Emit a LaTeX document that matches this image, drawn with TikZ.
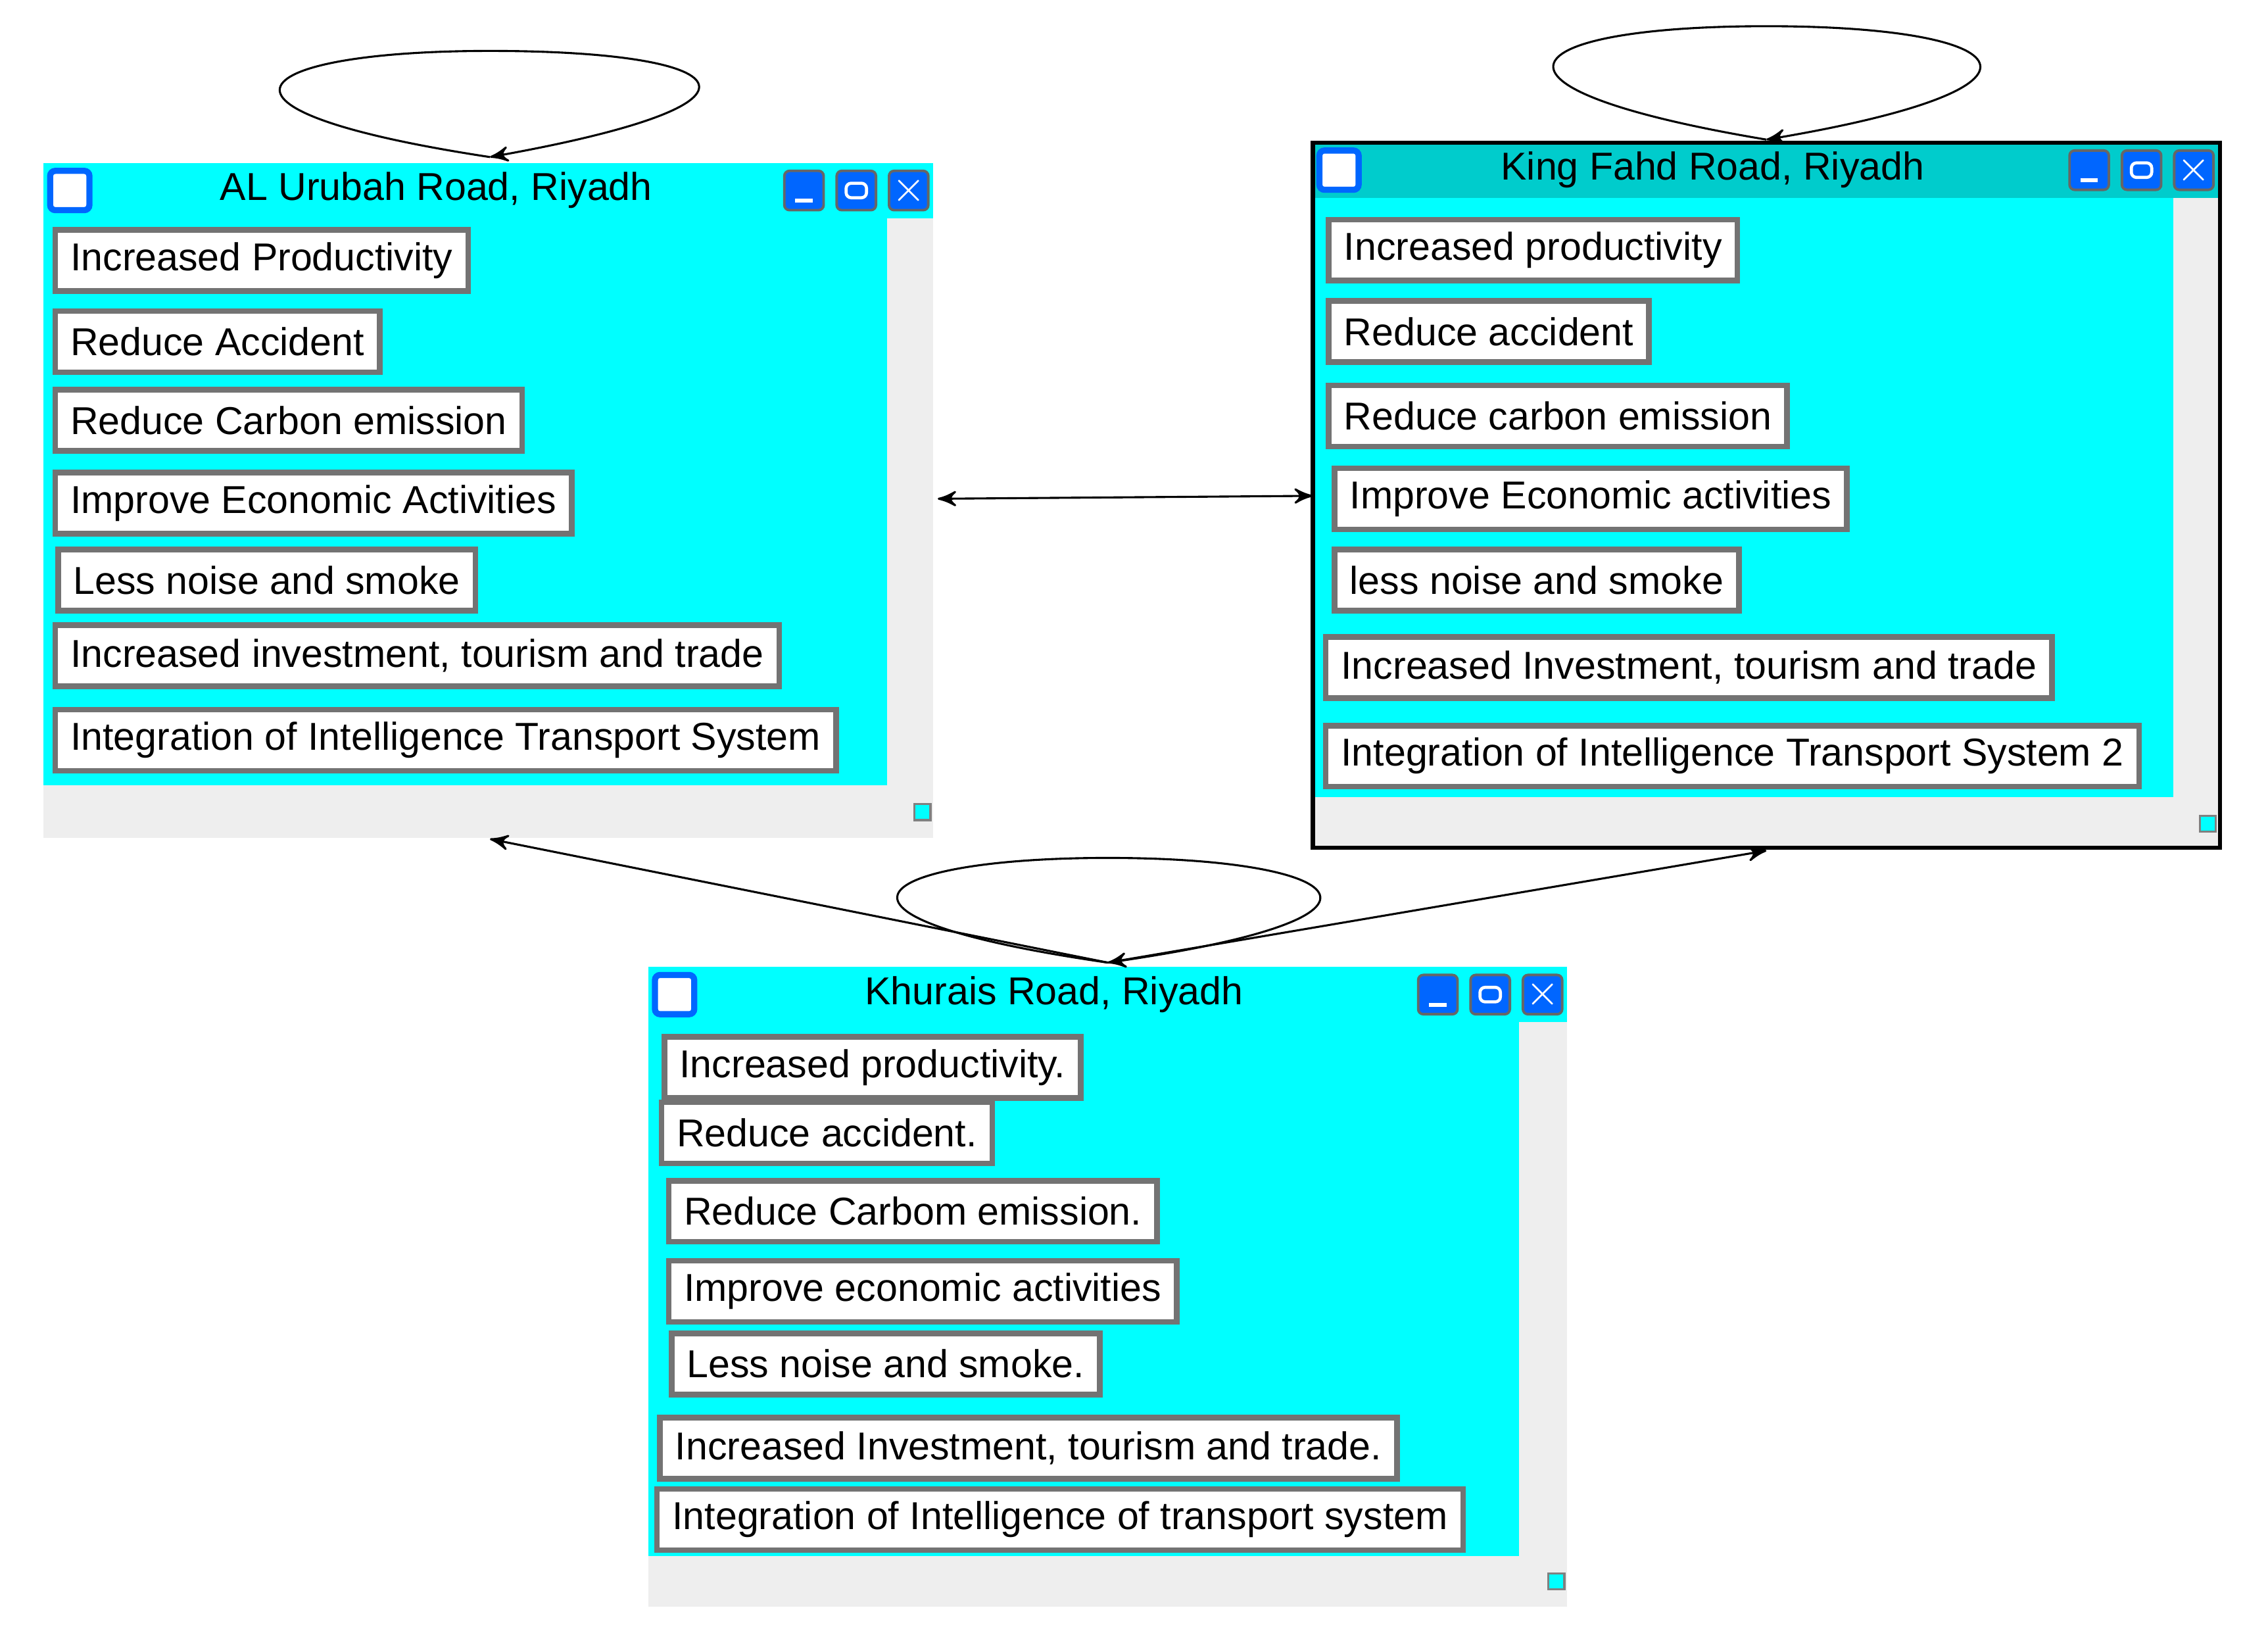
\documentclass[tikz,border=0pt]{standalone}
\usepackage{fontspec}
\setmainfont{Liberation Sans}
\usetikzlibrary{arrows,positioning,calc}
\definecolor{aqua}{RGB}{0,255,255}
\definecolor{tbar}{RGB}{0,204,204}
\definecolor{scr}{RGB}{238,238,238}
\definecolor{icon}{RGB}{0,102,255}

\tikzset{
	btn/.style={draw=black!55, line width=1.1pt, fill=white, anchor=west, inner xsep=3pt, inner ysep=0pt, minimum height=0.42cm, font=\fontsize{7.6}{8}\selectfont},
	ttl/.style={font=\fontsize{7.6}{8}\selectfont},
	ico/.style={draw=black!60, fill=icon, rounded corners=1pt, minimum size=0.27cm, inner sep=0pt, line width=0.5pt},
	lp/.style={->, >=stealth', line width=0.4pt}
}

\newcommand{\titleicons}[2]{%
	\node[ico, fill=white, draw=icon, line width=1.2pt] at (#1) {};
	\node[ico] at ($(#2)+(-72,0)$) {\tikz\draw[white,line width=0.8pt] (0,0) -- (0.12cm,0) (0,0.14cm) circle (0pt);};
	\node[ico] at ($(#2)+(-36,0)$) {\tikz\draw[white,line width=0.6pt] (0,0) rectangle (0.14cm,0.1cm);};
	\node[ico] at (#2) {\textcolor{white}{\fontsize{8}{8}\selectfont$\times$}};
}

\begin{document}
\begin{tikzpicture}[x=0.01cm, y=-0.01cm]
		\useasboundingbox (0,0) rectangle (1560,1123);
		
		%% AL Urubah window
		\fill[scr] (30,150) rectangle (642,576);
		\fill[aqua] (30,112) rectangle (642,150);
		\fill[aqua] (30,150) rectangle (610,540);
		\node[ttl] (t1) at (300,131) {AL Urubah Road, Riyadh};
		\titleicons{48,131}{625,131}
		\node[btn] (a1) at (36,179) {Increased Productivity};
		\node[btn] (a2) at (36,235) {Reduce Accident};
		\node[btn] (a3) at (36,289) {Reduce Carbon emission};
		\node[btn] (a4) at (36,346) {Improve Economic Activities};
		\node[btn] (a5) at (38,399) {Less noise and smoke};
		\node[btn] (a6) at (36,451) {Increased investment, tourism and trade};
		\node[btn] (a7) at (36,509) {Integration of Intelligence Transport System};
		\fill[aqua, draw=black!50] (629,553) rectangle (640,564);
		\coordinate (w1r) at (645,343);
		\coordinate (w1t) at (337,108);
		\coordinate (w1b) at (337,577);
		
		%% King Fahd window
		\fill[scr] (903,136) rectangle (1527,583);
		\fill[tbar] (903,98) rectangle (1527,136);
		\fill[aqua] (903,136) rectangle (1495,548);
		\draw[line width=0.8pt] (903,98) rectangle (1527,583);
		\node[ttl] (t2) at (1178,117) {King Fahd Road, Riyadh};
		\titleicons{921,117}{1509,117}
		\node[btn] (k1) at (912,172) {Increased productivity};
		\node[btn] (k2) at (912,228) {Reduce accident};
		\node[btn] (k3) at (912,286) {Reduce carbon emission};
		\node[btn] (k4) at (916,343) {Improve Economic activities};
		\node[btn] (k5) at (916,399) {less noise and smoke};
		\node[btn] (k6) at (910,459) {Increased Investment, tourism and trade};
		\node[btn] (k7) at (910,520) {Integration of Intelligence Transport System 2};
		\fill[aqua, draw=black!50] (1513,561) rectangle (1524,572);
		\coordinate (w2l) at (903,341);
		\coordinate (w2t) at (1215,96);
		\coordinate (w2b) at (1215,585);
		
		%% Khurais window
		\fill[scr] (446,703) rectangle (1078,1105);
		\fill[aqua] (446,665) rectangle (1078,703);
		\fill[aqua] (446,703) rectangle (1045,1070);
		\node[ttl] (t3) at (725,684) {Khurais Road, Riyadh};
		\titleicons{464,684}{1061,684}
		\node[btn] (h1) at (455,734) {Increased productivity.};
		\node[btn] (h2) at (453,779) {Reduce accident.};
		\node[btn] (h3) at (458,833) {Reduce Carbom emission.};
		\node[btn] (h4) at (458,888) {Improve economic activities};
		\node[btn] (h5) at (460,938) {Less noise and smoke.};
		\node[btn] (h6) at (452,996) {Increased Investment, tourism and trade.};
		\node[btn] (h7) at (450,1045) {Integration of Intelligence of transport system};
		\fill[aqua, draw=black!50] (1065,1082) rectangle (1076,1093);
		\coordinate (w3t) at (762,662);
		
		%% connectors
		\draw[<->, >=stealth', line width=0.4pt] (w1r) -- (w2l);
		\draw[lp] (w3t) -- (w1b);
		\draw[lp] (w3t) -- (w2b);
		
		%% self loops
		\draw[lp] (w1t) .. controls (120,75) and (170,35) .. (337,35) .. controls (505,35) and (550,70) .. (w1t);
		\draw[lp] (w2t) .. controls (1000,60) and (1040,18) .. (1215,18) .. controls (1390,18) and (1430,60) .. (w2t);
		\draw[lp] (w3t) .. controls (540,630) and (600,590) .. (762,590) .. controls (925,590) and (985,630) .. (w3t);
\end{tikzpicture}
\end{document}
